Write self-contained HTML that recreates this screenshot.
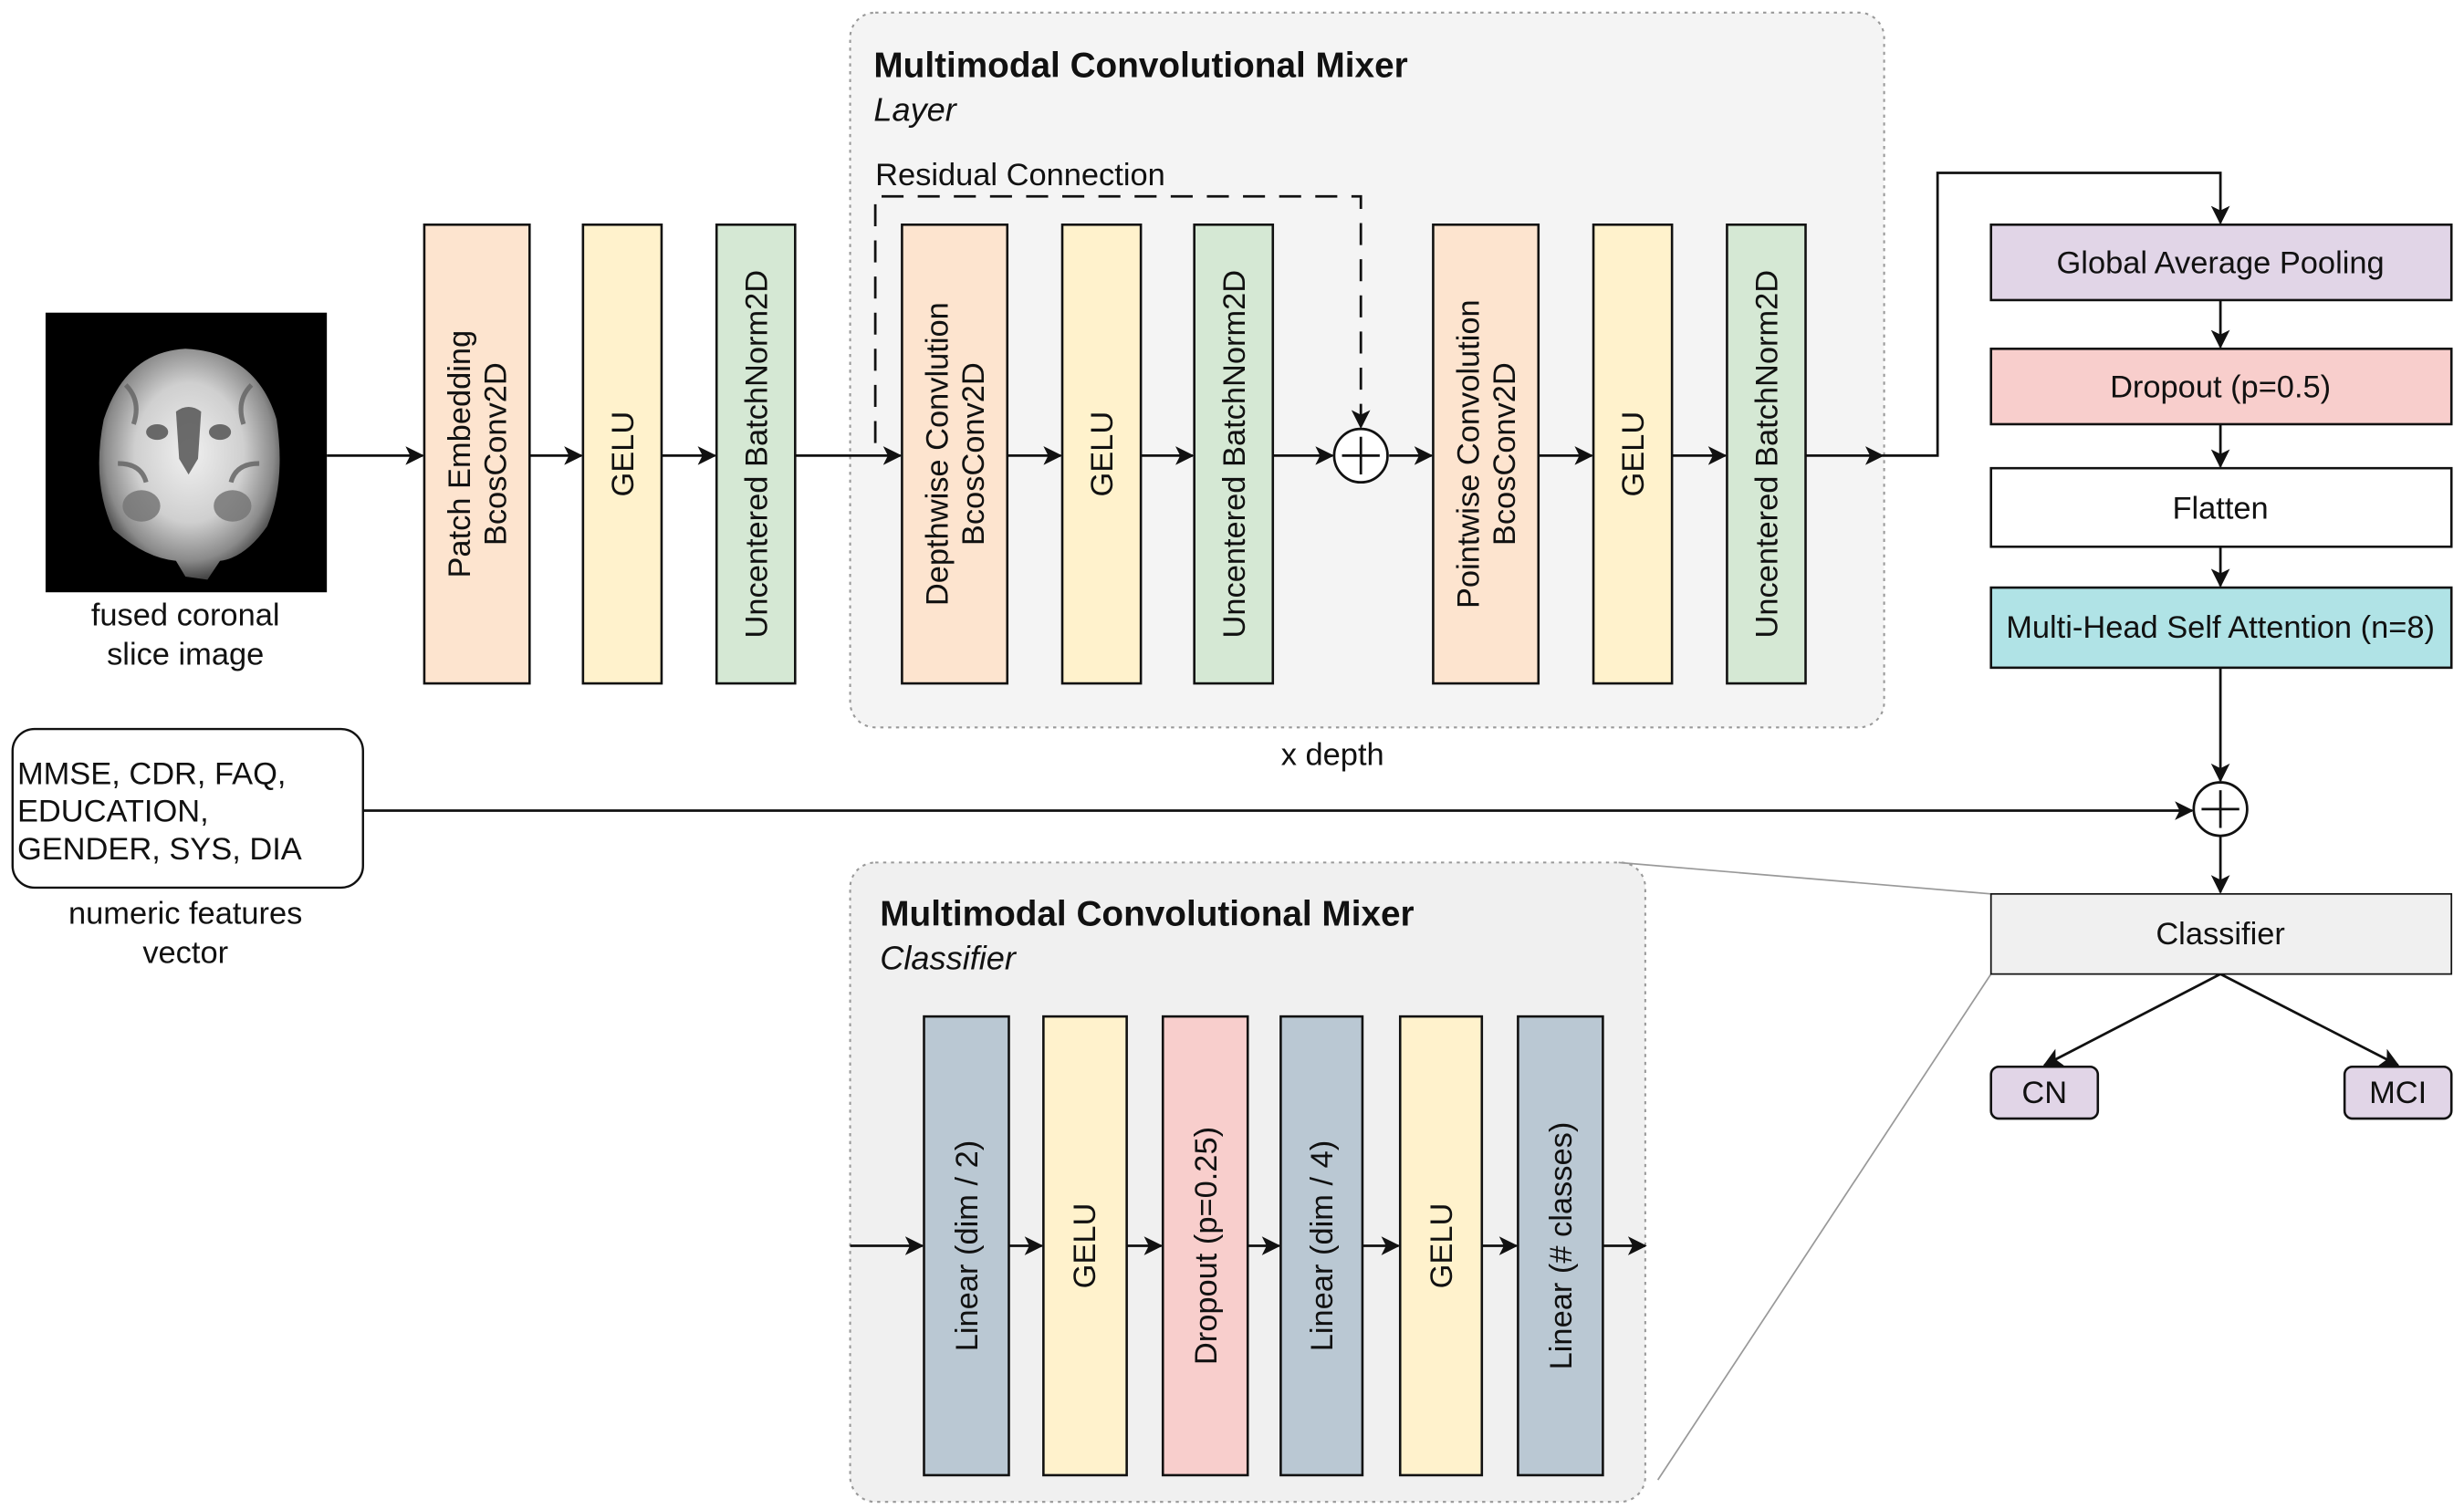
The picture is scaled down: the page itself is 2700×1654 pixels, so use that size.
<!DOCTYPE html>
<html><head><meta charset="utf-8"><style>
html,body{margin:0;padding:0;background:#fff;}
svg{display:block;}
text{font-family:"Liberation Sans",Arial,sans-serif;fill:#111;}
</style></head><body>
<svg width="2700" height="1654" viewBox="0 0 1568 960.5" xmlns="http://www.w3.org/2000/svg">
<defs>
<marker id="ar" markerWidth="12" markerHeight="12" refX="11" refY="6" orient="auto" markerUnits="userSpaceOnUse">
<path d="M0,0 L12,6 L0,12 L3,6 Z" fill="#111"/></marker>
<radialGradient id="br" cx="50%" cy="45%" r="55%">
<stop offset="0" stop-color="#f0f0f0"/><stop offset="0.55" stop-color="#cfcfcf"/><stop offset="0.85" stop-color="#8a8a8a"/><stop offset="1" stop-color="#444"/></radialGradient>
</defs>
<rect width="1568" height="960.5" fill="#fff"/>

<rect x="541" y="8" width="658" height="455" rx="16" fill="#f4f4f4" stroke="#999" stroke-width="1.2" stroke-dasharray="2,3"/>
<rect x="541" y="549" width="506" height="407" rx="16" fill="#f0f0f0" stroke="#999" stroke-width="1.2" stroke-dasharray="2,3"/>
<line x1="1030" y1="549" x2="1267" y2="569" stroke="#999" stroke-width="1"/>
<line x1="1055" y1="942" x2="1267" y2="620" stroke="#999" stroke-width="1"/>

<text x="556" y="49" font-size="22.5" font-weight="bold">Multimodal Convolutional Mixer</text>
<text x="556" y="77" font-size="21" font-style="italic">Layer</text>
<text x="557" y="118" font-size="20">Residual Connection</text>
<text x="560" y="589" font-size="22.5" font-weight="bold">Multimodal Convolutional Mixer</text>
<text x="560" y="617" font-size="21" font-style="italic">Classifier</text>
<text x="848" y="487" font-size="20" text-anchor="middle">x depth</text>

<!-- brain -->
<rect x="29" y="199" width="179" height="178" fill="#000"/>
<path d="M118 222 q45 2 58 45 q6 40 -6 68 q-14 20 -30 22 l-8 12 l-14 -2 l-6 -10 q-20 -2 -40 -20 q-14 -30 -6 -70 q14 -43 52 -45z" fill="url(#br)"/>
<g fill="#555" opacity="0.85">
<path d="M112 262 q8 -6 16 0 l-2 30 l-6 10 l-6 -10z"/>
<ellipse cx="100" cy="275" rx="7" ry="5"/><ellipse cx="140" cy="275" rx="7" ry="5"/>
<ellipse cx="90" cy="322" rx="12" ry="10" fill="#777"/><ellipse cx="148" cy="322" rx="12" ry="10" fill="#777"/>
<path d="M80 245 q10 10 5 25 M160 245 q-10 10 -5 25 M75 295 q15 0 18 12 M165 295 q-15 0 -18 12" stroke="#666" stroke-width="3" fill="none"/>
</g>
<text x="118" y="398" font-size="20" text-anchor="middle">fused coronal</text>
<text x="118" y="423" font-size="20" text-anchor="middle">slice image</text>

<rect x="8" y="464" width="223" height="101" rx="14" fill="#fff" stroke="#111" stroke-width="1.4"/>
<text x="11" y="499" font-size="20">MMSE, CDR, FAQ,</text>
<text x="11" y="523" font-size="20">EDUCATION,</text>
<text x="11" y="547" font-size="20">GENDER, SYS, DIA</text>
<text x="118" y="588" font-size="20" text-anchor="middle">numeric features</text>
<text x="118" y="613" font-size="20" text-anchor="middle">vector</text>

<g stroke="#111" stroke-width="1.6" fill="none">
<line x1="208" y1="290" x2="269" y2="290" marker-end="url(#ar)"/>
<line x1="337" y1="290" x2="370" y2="290" marker-end="url(#ar)"/>
<line x1="421" y1="290" x2="455" y2="290" marker-end="url(#ar)"/>
<line x1="506" y1="290" x2="573" y2="290" marker-end="url(#ar)"/>
<line x1="641" y1="290" x2="675" y2="290" marker-end="url(#ar)"/>
<line x1="726" y1="290" x2="759" y2="290" marker-end="url(#ar)"/>
<line x1="810" y1="290" x2="848" y2="290" marker-end="url(#ar)"/>
<line x1="884" y1="290" x2="911" y2="290" marker-end="url(#ar)"/>
<line x1="979" y1="290" x2="1013" y2="290" marker-end="url(#ar)"/>
<line x1="1064" y1="290" x2="1098" y2="290" marker-end="url(#ar)"/>
<line x1="1149" y1="290" x2="1198" y2="290" marker-end="url(#ar)"/>
<polyline points="1198,290 1233,290 1233,110 1413,110 1413,142" marker-end="url(#ar)"/>
<polyline points="557,282 557,125 866,125 866,272" stroke-dasharray="14,9" marker-end="url(#ar)"/>
<circle cx="866" cy="290" r="17" fill="#fff"/>
<line x1="866" y1="278" x2="866" y2="302"/><line x1="854" y1="290" x2="878" y2="290"/>
<line x1="1413" y1="191" x2="1413" y2="221" marker-end="url(#ar)"/>
<line x1="1413" y1="270" x2="1413" y2="297" marker-end="url(#ar)"/>
<line x1="1413" y1="348" x2="1413" y2="373" marker-end="url(#ar)"/>
<line x1="1413" y1="425" x2="1413" y2="497" marker-end="url(#ar)"/>
<line x1="231" y1="516" x2="1395" y2="516" marker-end="url(#ar)"/>
<circle cx="1413" cy="515" r="17" fill="#fff"/>
<line x1="1413" y1="503" x2="1413" y2="527"/><line x1="1401" y1="515" x2="1425" y2="515"/>
<line x1="1413" y1="532" x2="1413" y2="568" marker-end="url(#ar)"/>
<line x1="1413" y1="620" x2="1301" y2="678" marker-end="url(#ar)"/>
<line x1="1413" y1="620" x2="1526" y2="678" marker-end="url(#ar)"/>
<line x1="541" y1="793" x2="587" y2="793" marker-end="url(#ar)"/>
<line x1="642" y1="793" x2="663" y2="793" marker-end="url(#ar)"/>
<line x1="717" y1="793" x2="739" y2="793" marker-end="url(#ar)"/>
<line x1="794" y1="793" x2="814" y2="793" marker-end="url(#ar)"/>
<line x1="867" y1="793" x2="890" y2="793" marker-end="url(#ar)"/>
<line x1="943" y1="793" x2="965" y2="793" marker-end="url(#ar)"/>
<line x1="1020" y1="793" x2="1047" y2="793" marker-end="url(#ar)"/>
</g>

<g stroke="#111" stroke-width="1.5">
<rect x="270" y="143" width="67" height="292" fill="#fde4cf"/>
<rect x="371" y="143" width="50" height="292" fill="#fff2cc"/>
<rect x="456" y="143" width="50" height="292" fill="#d5e8d4"/>
<rect x="574" y="143" width="67" height="292" fill="#fde4cf"/>
<rect x="676" y="143" width="50" height="292" fill="#fff2cc"/>
<rect x="760" y="143" width="50" height="292" fill="#d5e8d4"/>
<rect x="912" y="143" width="67" height="292" fill="#fde4cf"/>
<rect x="1014" y="143" width="50" height="292" fill="#fff2cc"/>
<rect x="1099" y="143" width="50" height="292" fill="#d5e8d4"/>
<rect x="1267" y="143" width="293" height="48" fill="#e1d5e7"/>
<rect x="1267" y="222" width="293" height="48" fill="#f8cecc"/>
<rect x="1267" y="298" width="293" height="50" fill="#fff"/>
<rect x="1267" y="374" width="293" height="51" fill="#b0e3e6"/>
<rect x="1267" y="569" width="293" height="51" fill="#f0f0f0" stroke-width="1"/>
<rect x="1267" y="679" width="68" height="33" rx="5" fill="#e1d5e7"/>
<rect x="1492" y="679" width="68" height="33" rx="5" fill="#e1d5e7"/>
<rect x="588" y="647" width="54" height="292" fill="#bac8d3"/>
<rect x="664" y="647" width="53" height="292" fill="#fff2cc"/>
<rect x="740" y="647" width="54" height="292" fill="#f8cecc"/>
<rect x="815" y="647" width="52" height="292" fill="#bac8d3"/>
<rect x="891" y="647" width="52" height="292" fill="#fff2cc"/>
<rect x="966" y="647" width="54" height="292" fill="#bac8d3"/>
</g>

<g font-size="20" text-anchor="middle">
<text transform="translate(303,289) rotate(-90)"><tspan x="0" y="-4">Patch Embedding</tspan><tspan x="0" y="19">BcosConv2D</tspan></text>
<text transform="translate(396,289) rotate(-90)" y="7">GELU</text>
<text transform="translate(481,289) rotate(-90)" y="7">Uncentered BatchNorm2D</text>
<text transform="translate(607,289) rotate(-90)"><tspan x="0" y="-4">Depthwise Convlution</tspan><tspan x="0" y="19">BcosConv2D</tspan></text>
<text transform="translate(701,289) rotate(-90)" y="7">GELU</text>
<text transform="translate(785,289) rotate(-90)" y="7">Uncentered BatchNorm2D</text>
<text transform="translate(945,289) rotate(-90)"><tspan x="0" y="-4">Pointwise Convolution</tspan><tspan x="0" y="19">BcosConv2D</tspan></text>
<text transform="translate(1039,289) rotate(-90)" y="7">GELU</text>
<text transform="translate(1124,289) rotate(-90)" y="7">Uncentered BatchNorm2D</text>
<text transform="translate(615,793) rotate(-90)" y="7">Linear (dim / 2)</text>
<text transform="translate(690,793) rotate(-90)" y="7">GELU</text>
<text transform="translate(767,793) rotate(-90)" y="7">Dropout (p=0.25)</text>
<text transform="translate(841,793) rotate(-90)" y="7">Linear (dim / 4)</text>
<text transform="translate(917,793) rotate(-90)" y="7">GELU</text>
<text transform="translate(993,793) rotate(-90)" y="7">Linear (# classes)</text>
<text x="1413" y="174">Global Average Pooling</text>
<text x="1413" y="253">Dropout (p=0.5)</text>
<text x="1413" y="330">Flatten</text>
<text x="1413" y="406">Multi-Head Self Attention (n=8)</text>
<text x="1413" y="601">Classifier</text>
<text x="1301" y="702">CN</text>
<text x="1526" y="702">MCI</text>
</g>
</svg>
</body></html>
